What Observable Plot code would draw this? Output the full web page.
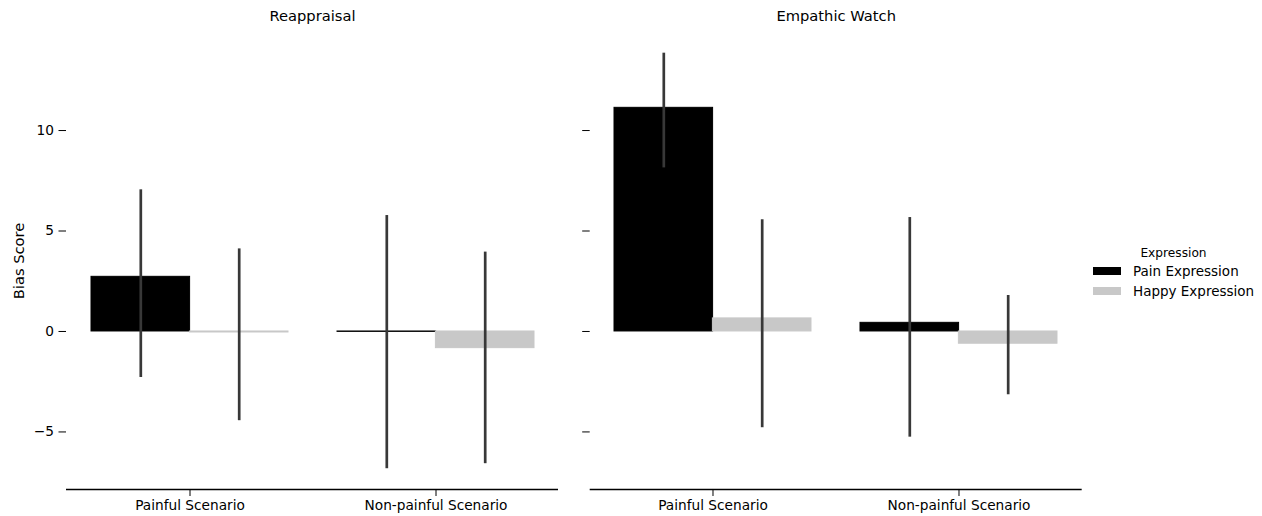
<!DOCTYPE html>
<html>
<head>
<meta charset="utf-8">
<script src="https://cdn.jsdelivr.net/npm/d3@7"></script>
<script src="https://cdn.jsdelivr.net/npm/@observablehq/plot@0.6"></script>
<style>
  body { margin: 0; background: #fff; font-family: "DejaVu Sans", sans-serif; }
  #wrap { position: relative; width: 1262px; height: 516px; overflow: hidden; background: #fff; }
  #wrap svg { position: absolute; top: 0; background: transparent !important; }
  #legend { position: absolute; left: 1093px; top: 245px; width: 165px; color: #000; }
  #legend .ttl { font-size: 12.2px; line-height: 16px; text-align: center; width: 161px; }
  #legend .row { display: flex; align-items: center; height: 20px; }
  #legend .row:first-of-type { margin-top: 1.5px; }
  #legend .sw { width: 28px; height: 8.5px; margin-right: 12px; flex: none; }
  #legend .lab { font-size: 13.5px; white-space: nowrap; }
</style>
</head>
<body>
<div id="wrap"></div>
<script>
// ---- data ----
const conditions = ["Reappraisal", "Empathic Watch"];
const scenarios = ["Painful Scenario", "Non-painful Scenario"];
const expressions = ["Pain Expression", "Happy Expression"];
const expressionColors = ["#000000", "#c8c8c8"];
const yTicks = [-5, 0, 5, 10];
const yLabel = "Bias Score";
const legendTitle = "Expression";
// [condition][scenario]
const painMean  = [[2.72, -0.02], [11.13, 0.43]];
const painLow   = [[-2.29, -6.83], [8.14, -5.26]];
const painHigh  = [[7.05, 5.77], [13.85, 5.67]];
const happyMean = [[-0.05, -0.83], [0.65, -0.61]];
const happyLow  = [[-4.44, -6.58], [-4.79, -3.15]];
const happyHigh = [[4.11, 3.95], [5.56, 1.79]];

// ---- build table ----
const rows = [];
conditions.forEach((c, ci) => scenarios.forEach((s, si) => {
  rows.push({condition: c, scenario: s, expression: expressions[0], mean: painMean[ci][si], lo: painLow[ci][si], hi: painHigh[ci][si]});
  rows.push({condition: c, scenario: s, expression: expressions[1], mean: happyMean[ci][si], lo: happyLow[ci][si], hi: happyHigh[ci][si]});
}));
const allLo = d3.min(rows, d => Math.min(d.lo, d.mean));
const allHi = d3.max(rows, d => Math.max(d.hi, d.mean));
const pad = 0.05 * (allHi - allLo);
const yDomain = [allLo - pad, allHi + pad];

const minus = d => d < 0 ? "\u2212" + Math.abs(d) : String(d);
const FONT = "'DejaVu Sans', sans-serif";
const H = 516;
const panelWidth = 492;
const step = panelWidth / 2;
const bandW = step * 0.8;
const half = bandW / 2;
const quarter = bandW / 4;

function panel(ci, left, marginLeft, showLabels) {
  const cond = conditions[ci];
  const data = rows.filter(d => d.condition === cond);
  const pain = data.filter(d => d.expression === expressions[0]);
  const happy = data.filter(d => d.expression === expressions[1]);
  const width = marginLeft + panelWidth + 2;
  const svg = Plot.plot({
    width, height: H,
    marginLeft, marginRight: 2, marginTop: 31.9, marginBottom: 27,
    style: {fontFamily: FONT, fontSize: "13.7px", color: "#000", background: "transparent", overflow: "visible"},
    x: {type: "band", domain: scenarios, paddingInner: 0.2, paddingOuter: 0.1, label: null, tickSize: 7, tickPadding: 4},
    y: {domain: yDomain, ticks: yTicks, tickFormat: showLabels ? minus : () => "", tickSize: 7.5, tickPadding: 5, label: null},
    marks: [
      Plot.barY(pain, {x: "scenario", y: "mean", fill: expressionColors[0], stroke: expressionColors[0], strokeWidth: 1, insetRight: half}),
      Plot.barY(happy, {x: "scenario", y: "mean", fill: expressionColors[1], stroke: expressionColors[1], strokeWidth: 1, insetLeft: half}),
      Plot.ruleX(pain, {x: "scenario", y1: "lo", y2: "hi", dx: -quarter, stroke: "#383838", strokeWidth: 2.7}),
      Plot.ruleX(happy, {x: "scenario", y1: "lo", y2: "hi", dx: quarter, stroke: "#383838", strokeWidth: 2.7}),
      Plot.ruleY([yDomain[0]], {stroke: "#000", strokeWidth: 1.3}),
      Plot.text([cond], {frameAnchor: "top", lineAnchor: "bottom", dy: -11, fontSize: 14.7, fill: "#000"}),
      ...(showLabels ? [Plot.text([yLabel], {frameAnchor: "left", textAnchor: "middle", lineAnchor: "middle", rotate: -90, dx: -47, fontSize: 14.7, fill: "#000"})] : [])
    ]
  });
  svg.style.left = left + "px";
  return svg;
}

const wrap = document.getElementById("wrap");
wrap.appendChild(panel(0, 0, 66, true));
wrap.appendChild(panel(1, 560, 29.7, false));

// legend
const lg = document.createElement("div");
lg.id = "legend";
const t = document.createElement("div");
t.className = "ttl";
t.textContent = legendTitle;
lg.appendChild(t);
expressions.forEach((e, i) => {
  const r = document.createElement("div");
  r.className = "row";
  const sw = document.createElement("div");
  sw.className = "sw";
  sw.style.background = expressionColors[i];
  const lab = document.createElement("div");
  lab.className = "lab";
  lab.textContent = e;
  r.appendChild(sw); r.appendChild(lab);
  lg.appendChild(r);
});
wrap.appendChild(lg);
</script>
</body>
</html>
